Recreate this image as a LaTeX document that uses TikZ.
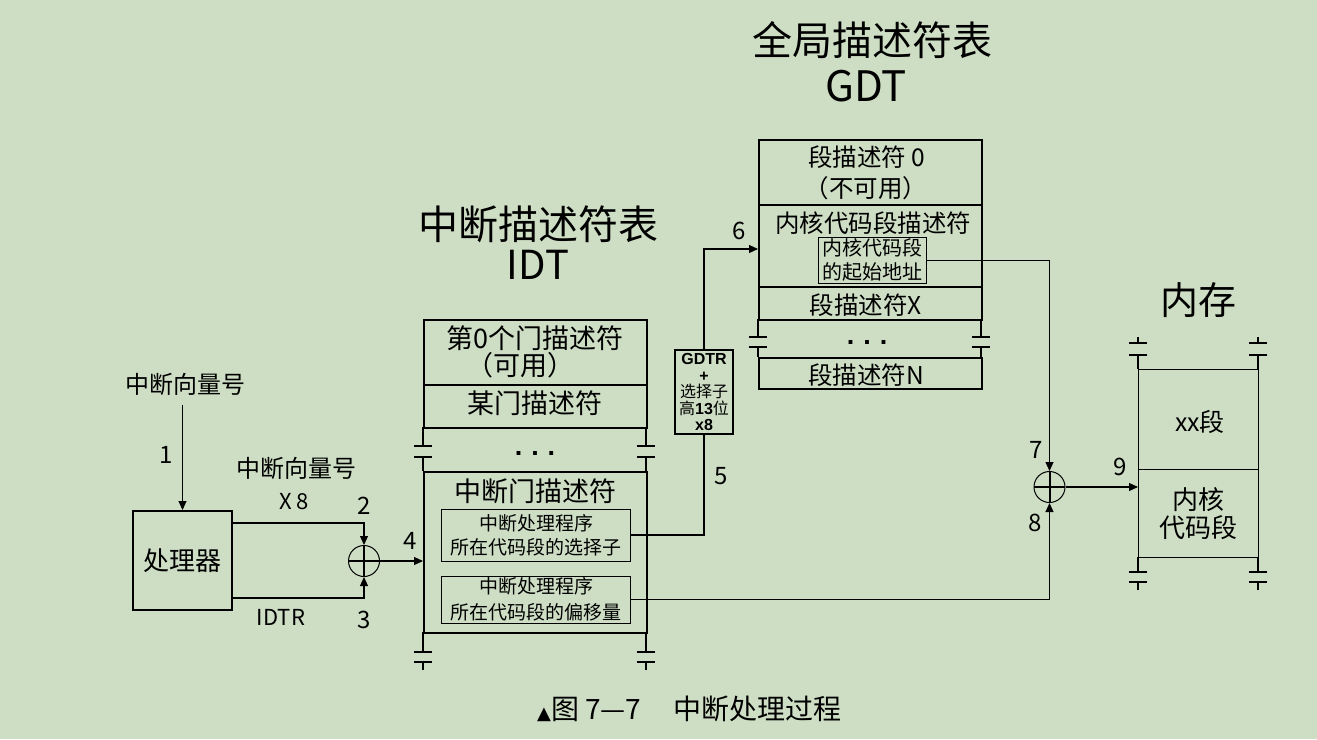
\documentclass[tikz,border=0pt]{standalone}
\usepackage{fontspec}
\setmainfont{Noto Sans CJK SC}
\newfontfamily\lbf{Liberation Sans}
\newfontfamily\djv{DejaVu Sans}
\usetikzlibrary{arrows.meta,calc}
\definecolor{bg}{RGB}{206,222,196}
\newcommand\fsz[2]{\fontsize{#1}{#2}\selectfont}
\begin{document}
\begin{tikzpicture}[x=1pt,y=-1pt,
  tab/.style={draw, line width=2pt, inner sep=0pt, anchor=north west},
  mem/.style={draw, line width=1.3pt, inner sep=0pt, anchor=north west, minimum width=120pt},
  inbox/.style={draw, line width=1pt, inner sep=0pt, align=center},
  conn/.style={line width=1.1pt},
  arr/.style={conn, -{Triangle[length=9pt,width=8pt]}},
  brk/.style={line width=2pt},
  plus/.style={circle, draw, line width=1pt, minimum size=31pt, inner sep=0pt,
    path picture={\draw[line width=2pt] (path picture bounding box.north) -- (path picture bounding box.south)
      (path picture bounding box.west) -- (path picture bounding box.east);}},
  num/.style={font=\fsz{24}{24}},
  t24/.style={font=\fsz{24.5}{24.5}},
  t27/.style={font=\fsz{27}{27}},
  ttl/.style={font=\fsz{40}{40}}]
\useasboundingbox (0,0) rectangle (1317,739);
\fill[bg] (0,0) rectangle (1317,739);

% titles
\node[ttl] (tg) at (872,40) {全局描述符表};
\node[font=\fsz{42}{42}] (tgdt) at (866,86) {GDT};
\node[ttl] (ti) at (538,224) {中断描述符表};
\node[font=\fsz{40}{40}] (tidt) at (538,265) {IDT};
\node[font=\fsz{38}{38}] (tm) at (1198,300) {内存};

% processor
\node[draw, line width=2pt, minimum width=99pt, minimum height=99pt, inner sep=0pt, font=\fsz{26}{26}] (cpu) at (182.5,560.5) {处理器};
\node[num] (vec) at (185,384) {中断向量号};
\draw[arr, shorten <=6pt] (vec.south -| cpu.north) -- (cpu.north);
\node[num] (n1) at (166,455) {1};
\node[num] (vec2) at (296,468) {中断向量号};
\node[font=\fsz{22}{22}] (x8) at (294,502) {X 8};
\node[font=\fsz{22}{22}] (idtr) at (281,617) {IDTR};

\node[plus] (p1) at (364,561) {};
\draw[arr] (cpu.east |- 0,523) -| (p1.north);
\draw[arr] (cpu.east |- 0,598) -| (p1.south);
\node[num] (n2) at (364,506) {2};
\node[num] (n3) at (364,620) {3};
\node[num] (n4) at (410,541) {4};

% IDT
\node[tab, minimum width=223pt, minimum height=65pt] (i0) at (423,319) {};
\node[tab, minimum width=223pt, minimum height=43pt] (i1) at (423,384) {};
\node[tab, minimum width=223pt, minimum height=161pt] (i3) at (423,471) {};
\node[t27] (i0a) at (535,338) {第0个门描述符};
\node[t27] (i0b) at (520,365) {（可用）};
\node[t27] (i1t) at (535,403) {某门描述符};
\node[font=\lbf\bfseries\fsz{27}{27}] (idots) at (535,453) {.\,\,.\,\,.};
\node[t27] (i3t) at (535,491) {中断门描述符};
\foreach \x in {423,646} {
  \draw[brk] (\x,427) -- (\x,446) (\x-9,446) -- (\x+9,446) (\x-9,457) -- (\x+9,457) (\x,457) -- (\x,471);
  \draw[brk] (\x,632) -- (\x,652) (\x-9,652) -- (\x+9,652) (\x-9,662) -- (\x+9,662) (\x,662) -- (\x,670);
}
\node[inbox, minimum width=189pt, minimum height=52pt, font=\fsz{19}{24}] (sel) at (536,535) {中断处理程序\\所在代码段的选择子};
\node[inbox, minimum width=189pt, minimum height=47pt, font=\fsz{19}{26}] (off) at (536,599.5) {中断处理程序\\所在代码段的偏移量};
\draw[arr] (p1.east) -- (p1.east -| i3.west);

% GDTR
\node[draw, line width=2pt, minimum width=58pt, minimum height=84pt, inner sep=0pt, align=center, font=\fsz{16}{16.5}] (gdtr) at (704,392)
  {{\lbf\bfseries GDTR}\\{\lbf\bfseries +}\\选择子\\高{\lbf\bfseries 13}位\\{\lbf\bfseries x8}};

% GDT
\node[tab, minimum width=223pt, minimum height=65pt] (g0) at (758,139) {};
\node[tab, minimum width=223pt, minimum height=82pt] (g1) at (758,204) {};
\node[tab, minimum width=223pt, minimum height=33pt] (g2) at (758,286) {};
\node[tab, minimum width=223pt, minimum height=31pt] (g3) at (758,357) {};
\node[t24] (g0a) at (867,157) {段描述符 0};
\node[t24] (g0b) at (866,188) {（不可用）};
\node[t24] (g1t) at (873,223) {内核代码段描述符};
\node[t24] (g2t) at (866,305) {段描述符X};
\node[font=\lbf\bfseries\fsz{27}{27}] (gdots) at (867,342) {.\,\,.\,\,.};
\node[t24] (g3t) at (866,375) {段描述符N};
\foreach \x in {758,981} {
  \draw[brk] (\x,319) -- (\x,337) (\x-9,337) -- (\x+9,337) (\x-9,347) -- (\x+9,347) (\x,347) -- (\x,357);
}
\node[inbox, minimum width=108pt, minimum height=46pt, font=\fsz{20}{24}] (base) at (872,260.3) {内核代码段\\的起始地址};

\draw[conn] (sel.east) -| (gdtr.south);
\draw[arr] (gdtr.north) |- (g1.west |- 0,249);
\node[num] (n5) at (721,476) {5};
\node[num] (n6) at (739,231) {6};

% memory
\node[mem, minimum height=100pt] (m0) at (1138,369) {};
\node[mem, minimum height=88pt, align=center, font=\fsz{26}{28}] (m1) at (1138,469) {内核\\代码段};
\node[font=\fsz{25}{25}] (m0t) at (1200,422) {xx段};
\foreach \x in {1138,1258} {
  \draw[line width=1.3pt] (\x,337) -- (\x,343) (\x-9,343) -- (\x+9,343) (\x-9,355) -- (\x+9,355) (\x,355) -- (\x,369);
  \draw[line width=1.3pt] (\x,557) -- (\x,572) (\x-9,572) -- (\x+9,572) (\x-9,582) -- (\x+9,582) (\x,582) -- (\x,590);
}

\node[plus] (p2) at (1049.5,487) {};
\draw[arr] (base.east) -| (p2.north);
\draw[arr] (off.east) -| (p2.south);
\draw[arr] (p2.east) -- (p2.east -| m1.west);
\node[num] (n7) at (1036,450) {7};
\node[num] (n8) at (1035,523) {8};
\node[num] (n9) at (1120,467) {9};

% caption
\node[anchor=west, font=\fsz{28}{28}, inner sep=0pt] (cap) at (537,709) {{\djv\fsz{18}{18}▲}图 7—7\hspace{32pt}中断处理过程};
\end{tikzpicture}
\end{document}
